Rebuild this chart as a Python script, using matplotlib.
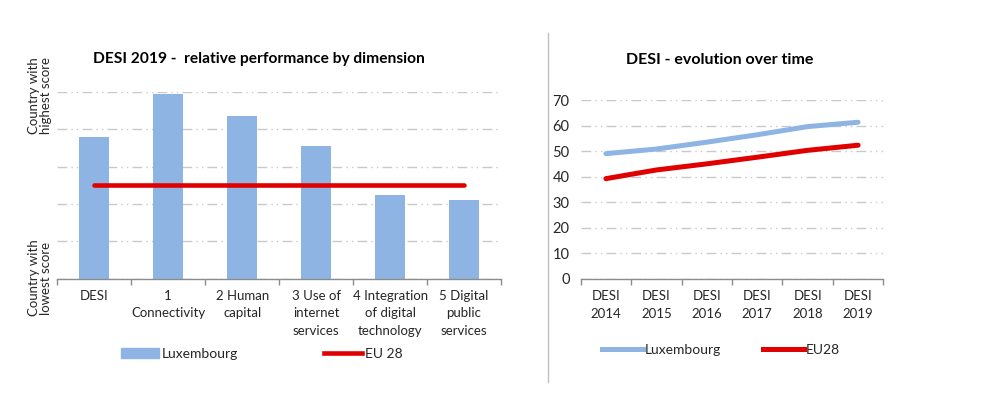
import matplotlib.pyplot as plt
import matplotlib.lines as mlines
import matplotlib.patches as mpatches
import numpy as np

# Left chart: relative performance (0 = lowest country, 1 = highest country)
dimensions = ["DESI", "1\nConnectivity", "2 Human\ncapital",
              "3 Use of\ninternet\nservices", "4 Integration\nof digital\ntechnology",
              "5 Digital\npublic\nservices"]
lux_relative = [0.76, 0.99, 0.87, 0.71, 0.45, 0.42]
eu_relative = [0.50, 0.50, 0.50, 0.50, 0.50, 0.50]

# Right chart: DESI score over time
years = ["DESI\n2014", "DESI\n2015", "DESI\n2016", "DESI\n2017", "DESI\n2018", "DESI\n2019"]
lux_score = [49.0, 50.8, 53.5, 56.4, 59.6, 61.3]
eu_score = [39.2, 42.6, 45.0, 47.6, 50.3, 52.3]

BLUE = "#8db4e2"
RED = "#e00000"
GRID = "#c9c9c9"
AXIS = "#8c8c8c"
TEXT = "#262626"
FONT = "Lato"
FS = 9.5

plt.rcParams["font.family"] = [FONT, "DejaVu Sans"]
plt.rcParams["lines.scale_dashes"] = False
GRID_STYLE = (0, (7, 3, 1, 3, 1, 3))


def style_axis(ax, n):
    for side in ["top", "right", "left"]:
        ax.spines[side].set_visible(False)
    ax.spines["bottom"].set_color(AXIS)
    ax.spines["bottom"].set_linewidth(1.0)
    ax.set_xlim(-0.5, n - 0.5)
    ax.set_xticks(np.arange(n))
    ax.set_xticks(np.arange(n + 1) - 0.5, minor=True)
    ax.tick_params(axis="x", which="major", length=0, pad=8,
                   labelsize=FS, labelcolor=TEXT)
    ax.tick_params(axis="x", which="minor", length=4, width=1.0,
                   color=AXIS, direction="out")
    ax.yaxis.grid(True, color=GRID, linestyle=GRID_STYLE, linewidth=1.0)
    ax.set_axisbelow(True)


fig = plt.figure(figsize=(10, 3.97), dpi=100)

# ---- left chart
ax1 = fig.add_axes([0.0573, 0.298, 0.4437, 0.471])
n = len(dimensions)
x = np.arange(n)
ax1.bar(x, lux_relative, width=0.4, color=BLUE, zorder=2)
ax1.plot(x, eu_relative, color=RED, linewidth=3.3, solid_capstyle="round", zorder=3)
style_axis(ax1, n)
ax1.set_xticklabels(dimensions, linespacing=1.55)
ax1.set_ylim(0, 1.0)
ax1.set_yticks(np.arange(0, 1.01, 0.2))
ax1.tick_params(axis="y", length=0, labelleft=False)

fig.text(0.040, 1 - 96 / 397, "Country with\nhighest score", rotation=90,
         ha="center", va="center", fontsize=FS, color=TEXT, linespacing=1.05)
fig.text(0.040, 1 - 278 / 397, "Country with\nlowest score", rotation=90,
         ha="center", va="center", fontsize=FS, color=TEXT, linespacing=1.05)
fig.text(0.259, 1 - 59 / 397, "DESI 2019 -  relative performance by dimension",
         ha="center", va="center", fontsize=11.2, fontweight="bold", color="black")

h_bar = mpatches.Patch(color=BLUE, label="Luxembourg")
h_eu = mlines.Line2D([], [], color=RED, linewidth=3.3, label="EU 28")
fig.legend(handles=[h_bar, h_eu], loc="center left",
           bbox_to_anchor=(0.121, 1 - 354 / 397), ncol=2, frameon=False,
           fontsize=FS + 0.5, handlelength=2.7, handleheight=0.7,
           handletextpad=0.25, columnspacing=6.2, borderpad=0, borderaxespad=0,
           labelcolor=TEXT)

# ---- divider
fig.add_artist(mlines.Line2D([0.548, 0.548], [1 - 33 / 397, 1 - 382 / 397],
                             color="#bfbfbf", linewidth=1.0))

# ---- right chart
ax2 = fig.add_axes([0.5807, 0.298, 0.3026, 0.450])
m = len(years)
x2 = np.arange(m)
ax2.plot(x2, lux_score, color=BLUE, linewidth=3.6, solid_capstyle="round", zorder=3)
ax2.plot(x2, eu_score, color=RED, linewidth=3.6, solid_capstyle="round", zorder=3)
style_axis(ax2, m)
ax2.set_xticklabels(years, linespacing=1.6)
ax2.set_ylim(0, 70)
ax2.set_yticks(np.arange(0, 71, 10))
ax2.tick_params(axis="y", length=0, labelsize=FS + 1, labelcolor=TEXT, pad=8)

fig.text(0.720, 1 - 60 / 397, "DESI - evolution over time",
         ha="center", va="center", fontsize=11.5, fontweight="bold", color="black")

h_lux = mlines.Line2D([], [], color=BLUE, linewidth=3.6, label="Luxembourg")
h_eu2 = mlines.Line2D([], [], color=RED, linewidth=3.6, label="EU28")
fig.legend(handles=[h_lux, h_eu2], loc="center left",
           bbox_to_anchor=(0.6017, 1 - 350 / 397), ncol=2, frameon=False,
           fontsize=FS + 0.5, handlelength=3.0, handletextpad=0.1,
           columnspacing=3.0, borderpad=0, borderaxespad=0, labelcolor=TEXT)

fig.savefig("out.png", dpi=100, facecolor="white")
